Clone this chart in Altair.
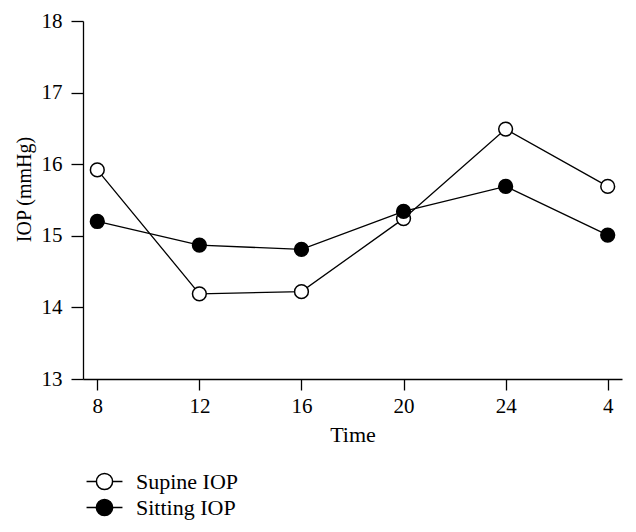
import altair as alt
import pandas as pd

times = ["8", "12", "16", "20", "24", "4"]
supine = [15.92, 14.19, 14.22, 15.24, 16.49, 15.69]
sitting = [15.20, 14.87, 14.81, 15.34, 15.69, 15.01]
series = ["Supine IOP", "Sitting IOP"]
y_ticks = [13, 14, 15, 16, 17, 18]

rows = []
for s, vals in zip(series, [supine, sitting]):
    for t, v in zip(times, vals):
        rows.append({"Time": t, "IOP": v, "Series": s})
df = pd.DataFrame(rows)

FONT = "Liberation Serif"

x = alt.X(
    "Time:O",
    sort=times,
    scale=alt.Scale(type="point", padding=0.14),
    axis=alt.Axis(title="Time", labelAngle=0, tickSize=11, labelPadding=5,
                  titlePadding=8),
)
y = alt.Y(
    "IOP:Q",
    scale=alt.Scale(domain=[13, 18], nice=False, zero=False),
    axis=alt.Axis(values=y_ticks, title="IOP (mmHg)", tickSize=12,
                  labelPadding=9, titlePadding=7, titleFontSize=20,
                  titleY=168),
)

lines = alt.Chart(df).mark_line(color="black", strokeWidth=1.3).encode(
    x=x, y=y, detail="Series:N"
)

legend_path = ("M-1.33,0H-0.6M0.6,0H1.33"
               "M-0.6,0A0.6,0.6 0 1,1 0.6,0A0.6,0.6 0 1,1 -0.6,0Z")

pts = alt.Chart(df).mark_point(
    filled=True, size=190, stroke="black", strokeWidth=1.5, opacity=1
).encode(
    x=x,
    y=y,
    fill=alt.Fill(
        "Series:N",
        scale=alt.Scale(domain=series, range=["white", "black"]),
        legend=alt.Legend(
            title=None,
            orient="none",
            legendX=7,
            legendY=446,
            symbolType=legend_path,
            symbolSize=729,
            symbolStrokeColor="black",
            symbolStrokeWidth=1.5,
            symbolOpacity=1,
            labelOffset=17,
            labelFontSize=22,
            labelFont=FONT,
            labelColor="black",
            rowPadding=0,
            padding=0,
        ),
    ),
)

chart = (
    (lines + pts)
    .properties(
        width=539,
        height=358,
        autosize="none",
        padding={"left": 75, "top": 13, "right": 6, "bottom": 145},
    )
    .configure_view(stroke=None)
    .configure_axis(
        grid=False,
        domainColor="black",
        domainWidth=1.3,
        tickColor="black",
        tickWidth=1.3,
        labelColor="black",
        titleColor="black",
        labelFont=FONT,
        titleFont=FONT,
        labelFontSize=21,
        titleFontSize=22,
        titleFontWeight="normal",
    )
)

chart.save("out.html", embed_options={"renderer": "svg", "actions": False})
